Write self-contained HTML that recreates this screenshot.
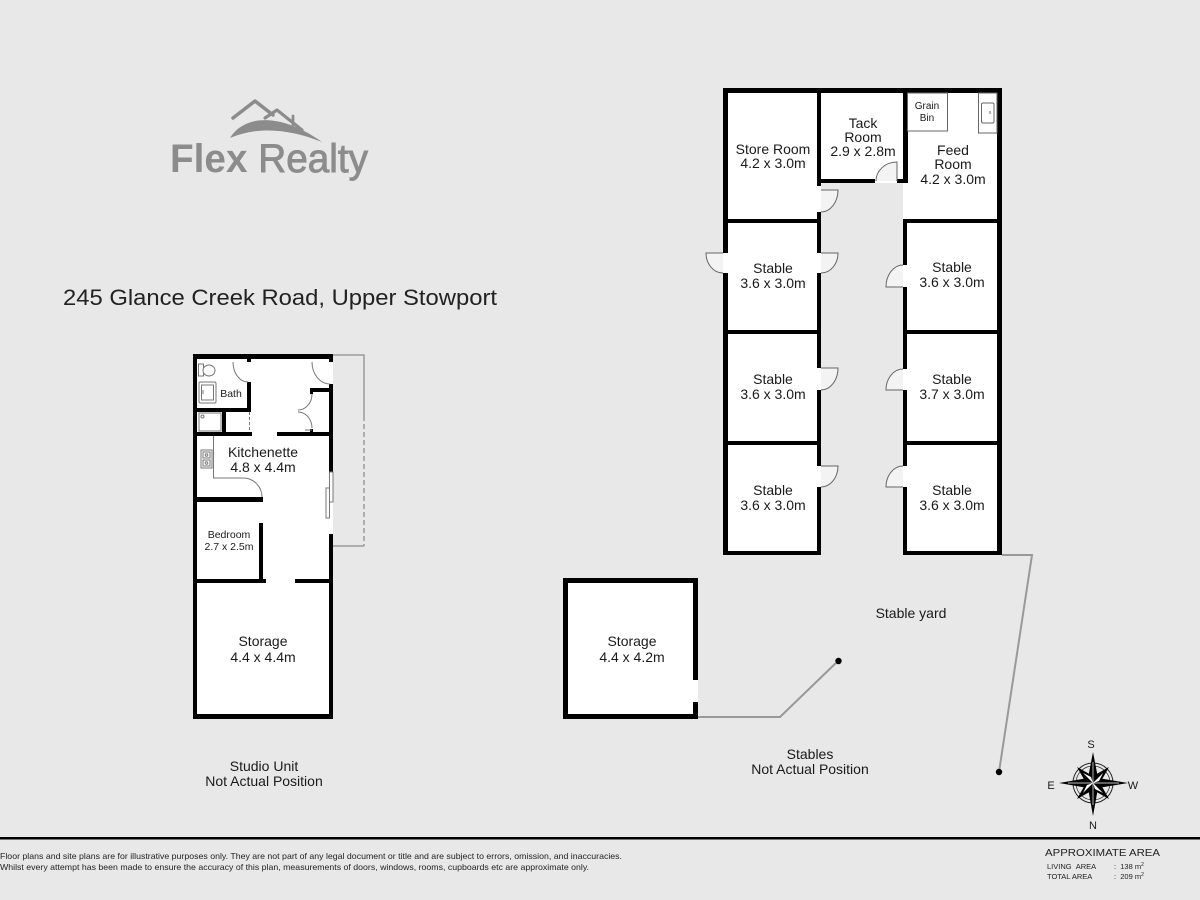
<!DOCTYPE html>
<html>
<head>
<meta charset="utf-8">
<style>
  html,body{margin:0;padding:0;background:#e8e8e8;}
  svg{display:block;}
  text{font-family:"Liberation Sans",Arial,sans-serif;fill:#1a1a1a;}
</style>
</head>
<body>
<svg width="1200" height="900" viewBox="0 0 1200 900" xmlns="http://www.w3.org/2000/svg">
  <rect x="0" y="0" width="1200" height="900" fill="#e8e8e8"/>

  <!-- ===== LOGO ===== -->
  <g fill="none" stroke="#8c8c8c" stroke-linecap="round" stroke-linejoin="round">
    <polyline points="233,118 255,101 273,115" stroke-width="3.5"/>
    <polyline points="265,118 277,110 302,130" stroke-width="3.2"/>
    <line x1="293" y1="116" x2="293" y2="125" stroke-width="2.8"/>
  </g>
  <path d="M230,138 C244,115 280,112 322,142 C290,129 258,126 230,138 Z" fill="#8c8c8c"/>
  <text x="170" y="172" font-size="40" textLength="198" lengthAdjust="spacingAndGlyphs" style="fill:#8c8c8c"><tspan font-weight="bold">Flex</tspan><tspan stroke="#8c8c8c" stroke-width="0.9"> Realty</tspan></text>

  <!-- Title -->
  <text x="63" y="305" font-size="22" textLength="434" lengthAdjust="spacingAndGlyphs" style="fill:#222">245 Glance Creek Road, Upper Stowport</text>

  <!-- ===== STUDIO UNIT ===== -->
  <g fill="none" stroke="#9a9a9a" stroke-width="1.5">
    <polyline points="333,355 364,355 364,416"/>
    <line x1="364" y1="416" x2="364" y2="546" stroke-dasharray="5,3"/>
    <line x1="333" y1="546" x2="364" y2="546"/>
  </g>
  <rect x="193" y="354" width="140" height="365" fill="#ffffff"/>
  <g fill="#000">
    <rect x="193" y="354" width="140" height="5"/>
    <rect x="193" y="354" width="4" height="365"/>
    <rect x="193" y="714" width="140" height="5"/>
    <rect x="329" y="354" width="4" height="8"/>
    <rect x="329" y="384" width="4" height="88"/>
    <rect x="329" y="534" width="4" height="185"/>
    <rect x="247" y="359" width="4" height="3"/>
    <rect x="247" y="382" width="4" height="30"/>
    <rect x="197" y="408" width="54" height="4"/>
    <rect x="222" y="410" width="4" height="26"/>
    <rect x="193" y="432" width="59" height="4"/>
    <rect x="277" y="432" width="56" height="4"/>
    <rect x="310" y="388" width="23" height="4"/>
    <rect x="310" y="388" width="3" height="6"/>
    <rect x="310" y="429" width="3" height="6"/>
    <rect x="193" y="497" width="70" height="5"/>
    <rect x="259" y="523" width="4" height="60"/>
    <rect x="193" y="579" width="73" height="4"/>
    <rect x="295" y="579" width="38" height="4"/>
  </g>
  <g fill="none" stroke="#777" stroke-width="1">
    <rect x="198.5" y="364" width="5" height="12" fill="#fff"/>
    <ellipse cx="209" cy="370.5" rx="6" ry="5.5" fill="#fff"/>
    <rect x="199" y="382" width="17" height="21" rx="1.5"/>
    <rect x="201.5" y="385" width="12" height="15"/>
    <line x1="203" y1="390" x2="203" y2="394"/>
    <rect x="199" y="413" width="22" height="18"/>
    <circle cx="202.5" cy="416.5" r="1.5"/>
    <line x1="249.5" y1="412" x2="249.5" y2="432" stroke-dasharray="3,2"/>
    <rect x="201" y="450" width="11" height="18"/>
    <rect x="203" y="452" width="7" height="6"/>
    <rect x="203" y="460" width="7" height="6"/>
    <circle cx="206.5" cy="455" r="1.3"/>
    <circle cx="206.5" cy="463" r="1.3"/>
    <path d="M213.5,436 V478 H243 A19 19 0 0 1 262,497"/>
    <path d="M233,362 A15 20 0 0 0 248,382"/>
    <path d="M312,362 A18 22 0 0 0 330,384"/>
    <path d="M312,394 A14 16 0 0 1 298,410"/>
    <path d="M298,412 A14 16 0 0 1 312,428"/>
    <line x1="305" y1="430" x2="312" y2="430"/>
    <rect x="329.5" y="472" width="3.5" height="30" fill="#fff"/>
    <rect x="326" y="488" width="3.5" height="30" fill="#fff"/>
  </g>
  <text x="231" y="397" font-size="10.5" text-anchor="middle">Bath</text>
  <text x="263" y="457" font-size="14" text-anchor="middle">Kitchenette</text>
  <text x="263" y="472" font-size="14" text-anchor="middle">4.8 x 4.4m</text>
  <text x="229" y="538" font-size="10.5" text-anchor="middle">Bedroom</text>
  <text x="229" y="550" font-size="10.5" text-anchor="middle">2.7 x 2.5m</text>
  <text x="263" y="646" font-size="14" text-anchor="middle">Storage</text>
  <text x="263" y="662" font-size="14" text-anchor="middle">4.4 x 4.4m</text>
  <text x="264" y="771" font-size="14" text-anchor="middle">Studio Unit</text>
  <text x="264" y="786" font-size="14" text-anchor="middle">Not Actual Position</text>

  <!-- ===== STABLES ===== -->
  <g fill="none" stroke="#999" stroke-width="2">
    <polyline points="698,717 780,717 838,661"/>
    <polyline points="1002,555 1032,555 999,772"/>
  </g>
  <circle cx="838.5" cy="661" r="3.2" fill="#000"/>
  <circle cx="999" cy="772" r="3.2" fill="#000"/>

  <rect x="723" y="88" width="98" height="467" fill="#fff"/>
  <rect x="817" y="88" width="91" height="95" fill="#fff"/>
  <rect x="903" y="88" width="99" height="467" fill="#fff"/>
  <rect x="821" y="183" width="82" height="368" fill="#e8e8e8"/>

  <g fill="#f3f3f3" stroke="none">
    <path d="M723,253 L706,253 A17 20 0 0 0 723,273 Z"/>
    <path d="M821,190 L838,190 A17 22 0 0 1 821,212 Z"/>
    <path d="M821,253 L838,253 A17 20 0 0 1 821,273 Z"/>
    <path d="M821,368 L838,368 A17 22 0 0 1 821,390 Z"/>
    <path d="M821,466 L838,466 A17 21 0 0 1 821,487 Z"/>
    <path d="M903,287 L886,287 A17 22 0 0 1 903,265 Z"/>
    <path d="M903,390 L886,390 A17 21 0 0 1 903,369 Z"/>
    <path d="M903,487 L886,487 A17 21 0 0 1 903,466 Z"/>
    <path d="M897,181 L897,162 A21 19 0 0 0 876,181 Z"/>
  </g>

  <g fill="#000">
    <rect x="723" y="88" width="279" height="5"/>
    <rect x="723" y="88" width="5" height="165"/>
    <rect x="723" y="273" width="5" height="282"/>
    <rect x="817" y="88" width="4" height="98"/>
    <rect x="817" y="212" width="4" height="41"/>
    <rect x="817" y="273" width="4" height="95"/>
    <rect x="817" y="390" width="4" height="76"/>
    <rect x="817" y="487" width="4" height="68"/>
    <rect x="723" y="219" width="98" height="4"/>
    <rect x="723" y="330" width="98" height="4"/>
    <rect x="723" y="441" width="98" height="4"/>
    <rect x="723" y="551" width="98" height="4"/>
    <rect x="817" y="179" width="58" height="4"/>
    <rect x="897" y="179" width="11" height="4"/>
    <rect x="903" y="88" width="5" height="95"/>
    <rect x="903" y="219" width="99" height="4"/>
    <rect x="903" y="219" width="4" height="46"/>
    <rect x="903" y="287" width="4" height="82"/>
    <rect x="903" y="390" width="4" height="76"/>
    <rect x="903" y="487" width="4" height="68"/>
    <rect x="997" y="88" width="5" height="467"/>
    <rect x="903" y="330" width="99" height="4"/>
    <rect x="903" y="441" width="99" height="4"/>
    <rect x="903" y="551" width="99" height="4"/>
  </g>

  <g fill="none" stroke="#666" stroke-width="1">
    <path d="M723,253 L706,253 A17 20 0 0 0 723,273"/>
    <path d="M821,190 L838,190 A17 22 0 0 1 821,212"/>
    <path d="M821,253 L838,253 A17 20 0 0 1 821,273"/>
    <path d="M821,368 L838,368 A17 22 0 0 1 821,390"/>
    <path d="M821,466 L838,466 A17 21 0 0 1 821,487"/>
    <path d="M903,287 L886,287 A17 22 0 0 1 903,265"/>
    <path d="M903,390 L886,390 A17 21 0 0 1 903,369"/>
    <path d="M903,487 L886,487 A17 21 0 0 1 903,466"/>
    <path d="M897,181 L897,162 A21 19 0 0 0 876,181"/>
    <rect x="907.5" y="93" width="40" height="38"/>
    <rect x="978.5" y="93" width="18.5" height="40"/>
    <rect x="981.5" y="103" width="12.5" height="20" rx="1.5"/>
    <line x1="990" y1="111" x2="990" y2="114"/>
  </g>

  <g font-size="14" text-anchor="middle">
    <text x="773" y="154">Store Room</text>
    <text x="773" y="168">4.2 x 3.0m</text>
    <text x="863" y="128">Tack</text>
    <text x="863" y="142">Room</text>
    <text x="863" y="156">2.9 x 2.8m</text>
    <text x="953" y="155">Feed</text>
    <text x="953" y="169">Room</text>
    <text x="953" y="184">4.2 x 3.0m</text>
    <text x="773" y="273">Stable</text>
    <text x="773" y="288">3.6 x 3.0m</text>
    <text x="773" y="384">Stable</text>
    <text x="773" y="399">3.6 x 3.0m</text>
    <text x="773" y="495">Stable</text>
    <text x="773" y="510">3.6 x 3.0m</text>
    <text x="952" y="272">Stable</text>
    <text x="952" y="287">3.6 x 3.0m</text>
    <text x="952" y="384">Stable</text>
    <text x="952" y="399">3.7 x 3.0m</text>
    <text x="952" y="495">Stable</text>
    <text x="952" y="510">3.6 x 3.0m</text>
    <text x="911" y="618">Stable yard</text>
    <text x="810" y="759">Stables</text>
    <text x="810" y="774">Not Actual Position</text>
  </g>
  <text x="927" y="109" font-size="10" text-anchor="middle">Grain</text>
  <text x="927" y="121" font-size="10" text-anchor="middle">Bin</text>

  <rect x="563" y="578" width="135" height="141" fill="#fff"/>
  <g fill="#000">
    <rect x="563" y="578" width="135" height="5"/>
    <rect x="563" y="578" width="5" height="141"/>
    <rect x="563" y="714" width="135" height="5"/>
    <rect x="693" y="578" width="5" height="102"/>
    <rect x="693" y="702" width="5" height="17"/>
  </g>
  <text x="632" y="646" font-size="14" text-anchor="middle">Storage</text>
  <text x="632" y="662" font-size="14" text-anchor="middle">4.4 x 4.2m</text>

  <!-- ===== COMPASS ===== -->
  <circle cx="1093" cy="783" r="20" fill="none" stroke="#222" stroke-width="1"/>
  <circle cx="1093" cy="783" r="17" fill="none" stroke="#222" stroke-width="0.7"/>
  <polygon points="1109,767 1100,783 1109,799 1093,790 1077,799 1086,783 1077,767 1093,776" fill="#000"/>
  <polygon points="1093,752 1098,778 1128,783 1098,788 1093,816 1088,788 1059,783 1088,778" fill="#000"/>
  <g fill="#fff">
    <polygon points="1093,783 1103,773 1099,781"/>
    <polygon points="1093,783 1083,793 1087,785"/>
    <polygon points="1093,783 1103,793 1095,789"/>
    <polygon points="1093,783 1083,773 1091,777"/>
  </g>
  <g stroke="#fff" stroke-width="0.7" fill="none">
    <line x1="1093" y1="762" x2="1093" y2="805"/>
    <line x1="1068" y1="783" x2="1119" y2="783"/>
  </g>
  <text x="1091" y="748" font-size="11" text-anchor="middle">S</text>
  <text x="1093" y="829" font-size="11" text-anchor="middle">N</text>
  <text x="1051" y="789" font-size="11" text-anchor="middle">E</text>
  <text x="1133" y="789" font-size="11" text-anchor="middle">W</text>

  <!-- ===== FOOTER ===== -->
  <rect x="0" y="837" width="1200" height="2.5" fill="#000"/>
  <text x="0" y="859" font-size="8.5" textLength="622" lengthAdjust="spacingAndGlyphs" style="fill:#222">Floor plans and site plans are for illustrative purposes only. They are not part of any legal document or title and are subject to errors, omission, and inaccuracies.</text>
  <text x="0" y="870" font-size="8.5" textLength="589" lengthAdjust="spacingAndGlyphs" style="fill:#222">Whilst every attempt has been made to ensure the accuracy of this plan, measurements of doors, windows, rooms, cupboards etc are approximate only.</text>

  <text x="1045" y="856" font-size="10.5" textLength="115" lengthAdjust="spacingAndGlyphs" style="fill:#222">APPROXIMATE AREA</text>
  <text x="1047" y="869" font-size="7.5" style="fill:#222">LIVING&#160;&#160;AREA</text>
  <text x="1047" y="879" font-size="7.5" style="fill:#222">TOTAL AREA</text>
  <text x="1114" y="869" font-size="7.5" style="fill:#222">:&#160;&#160;138 m<tspan font-size="5" dy="-3">2</tspan></text>
  <text x="1114" y="879" font-size="7.5" style="fill:#222">:&#160;&#160;209 m<tspan font-size="5" dy="-3">2</tspan></text>
</svg>
</body>
</html>
